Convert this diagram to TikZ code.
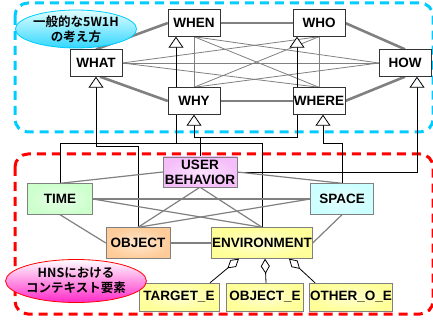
\documentclass[tikz,border=0pt]{standalone}
\usepackage{fontspec}
\setmainfont{Liberation Sans}
\newfontfamily\jafont{Noto Sans CJK JP}[BoldFont={* Bold}]
\usetikzlibrary{arrows.meta,positioning,shapes.geometric,backgrounds}
\definecolor{fcyan}{RGB}{0,204,255}
\definecolor{fred}{RGB}{255,0,0}
\definecolor{cgreen}{RGB}{204,255,204}
\definecolor{cpink}{RGB}{245,190,250}
\definecolor{ccyan}{RGB}{204,255,255}
\definecolor{corange}{RGB}{255,204,153}
\definecolor{cyellow}{RGB}{255,255,153}
\definecolor{cmag}{RGB}{255,40,200}

\begin{document}
\begin{tikzpicture}[x=1pt,y=-1pt,font=\fontsize{13.5}{15}\selectfont\bfseries,
 w/.style={draw=black!80,fill=white,minimum width=52pt,minimum height=27pt,inner sep=0pt},
 ctx/.style={draw=black!50,inner color=#1!45,outer color=#1,minimum height=31pt,inner sep=0pt,align=center},
 ell/.style={ellipse,draw=#1,line width=0.8pt,align=center,inner sep=0pt,font=\jafont\bfseries\fontsize{12.5}{15}\selectfont},
 frame/.style={draw=#1,line width=3pt,dash pattern=on 9pt off 6pt,rounded corners=13pt},
 thk/.style={gray,line width=2.6pt},thn/.style={gray,line width=0.8pt},
 lnk/.style={black,line width=0.8pt},
 gen/.style={lnk,-{Triangle[width=15pt,length=11pt,fill=white]}},
 agg/.style={lnk,{Diamond[width=9pt,length=15pt,fill=white]}-},
 rel/.style={gray,line width=1.2pt}]
\useasboundingbox (0,0) rectangle (433,320);
% 5W1H
\node[w](wht) at (96,63){WHAT};
\node[w](whn) at (194,23){WHEN};
\node[w](who) at (319,23){WHO};
\node[w](how) at (405,63){HOW};
\node[w](why) at (194,101){WHY};
\node[w](whr) at (319,101){WHERE};
\node[ell=fcyan,top color=cyan!12,bottom color=fcyan!80,minimum width=105pt,minimum height=32pt](w5) at (76,29){一般的な5W1H\\の考え方};
% context elements
\node[ctx=cgreen,minimum width=65pt](tim) at (60,199){TIME};
\node[ctx=cpink,minimum width=74pt,minimum height=30pt](usr) at (200,172){USER\\BEHAVIOR};
\node[ctx=ccyan,minimum width=63pt](spc) at (342,199){SPACE};
\node[ctx=corange,minimum width=64pt](obj) at (138,243){OBJECT};
\node[ctx=cyellow,minimum width=101pt](env) at (262,243){ENVIRONMENT};
\node[ctx=cyellow,minimum width=80pt,minimum height=28pt](tgt) at (179,297){TARGET\_E};
\node[ctx=cyellow,minimum width=77pt,minimum height=28pt](obe) at (265,297){OBJECT\_E};
\node[ctx=cyellow,minimum width=83pt,minimum height=28pt](oth) at (351,297){OTHER\_O\_E};
\node[ell=fred,top color=white,bottom color=cmag,minimum width=108pt,minimum height=43pt](hns) at (76,281){HNSにおける\\コンテキスト要素};
\coordinate (j1) at (176,143);\coordinate (j2) at (96,146);\coordinate (j3) at (194,137);
\coordinate (j4) at (297,137);\coordinate (j5) at (323,143);
\begin{scope}[on background layer]
\draw[frame=fcyan] (15,3) rectangle (433,132);
\draw[frame=fred] (15,154) rectangle (433,314);
% links between the 5W1H
\draw[thn] (wht.east)--(how.west); \draw[thn] (wht.east)--(who.south); \draw[thn] (wht.east)--(whr.north);
\draw[thn] (whn.south)--(why.north); \draw[thn] (whn.south)--(whr.north); \draw[thn] (whn.south)--(how.west);
\draw[thn] (who.south)--(why.north); \draw[thn] (who.south)--(whr.north); \draw[thn] (why.north)--(how.west);
\draw[thk] (wht.north)--(whn.west); \draw[thk] (whn.east)--(who.west); \draw[thk] (who.east)--(how.north);
\draw[thk] ([xshift=4pt]wht.south)--(why.west); \draw[thk] (why.east)--(whr.west); \draw[thk] (whr.east)--(how.south);
% context to 5W1H
\draw[gen] (tim.north) |- (j1) -- (j1 |- whn.south); \draw[lnk] (env.north) |- (j1);
\draw[gen] (obj.north) |- (j2) -- (wht.south);
\draw[gen] (usr.north) |- (j3) -- (why.south); \draw[gen] (usr.north) |- (j4) -- (j4 |- who.south);
\draw[gen] (usr.east) -| ([xshift=12pt]how.south);
\draw[gen] (spc.north) |- (j5) -- (j5 |- whr.south);
% links between context elements
\draw[rel] (tim.north)--(usr.west); \draw[rel] (tim.east)--(spc.west); \draw[rel] (tim.east)--(env.north); \draw[rel] (tim.south)--(obj.west);
\draw[rel] (usr.south)--(obj.north); \draw[rel] (usr.south)--(env.north); \draw[rel] (usr.east)--(spc.north);
\draw[rel] (obj.north)--(spc.west); \draw[rel] (obj.east)--(env.west); \draw[rel] (env.east)--(spc.south);
\end{scope}
\draw[agg] ([xshift=-23pt]env.south)--([xshift=31pt]tgt.north);
\draw[agg] ([xshift=3pt]env.south)--([xshift=1pt]obe.north);
\draw[agg] ([xshift=27pt]env.south)--([xshift=-36pt]oth.north);
\end{tikzpicture}
\end{document}
